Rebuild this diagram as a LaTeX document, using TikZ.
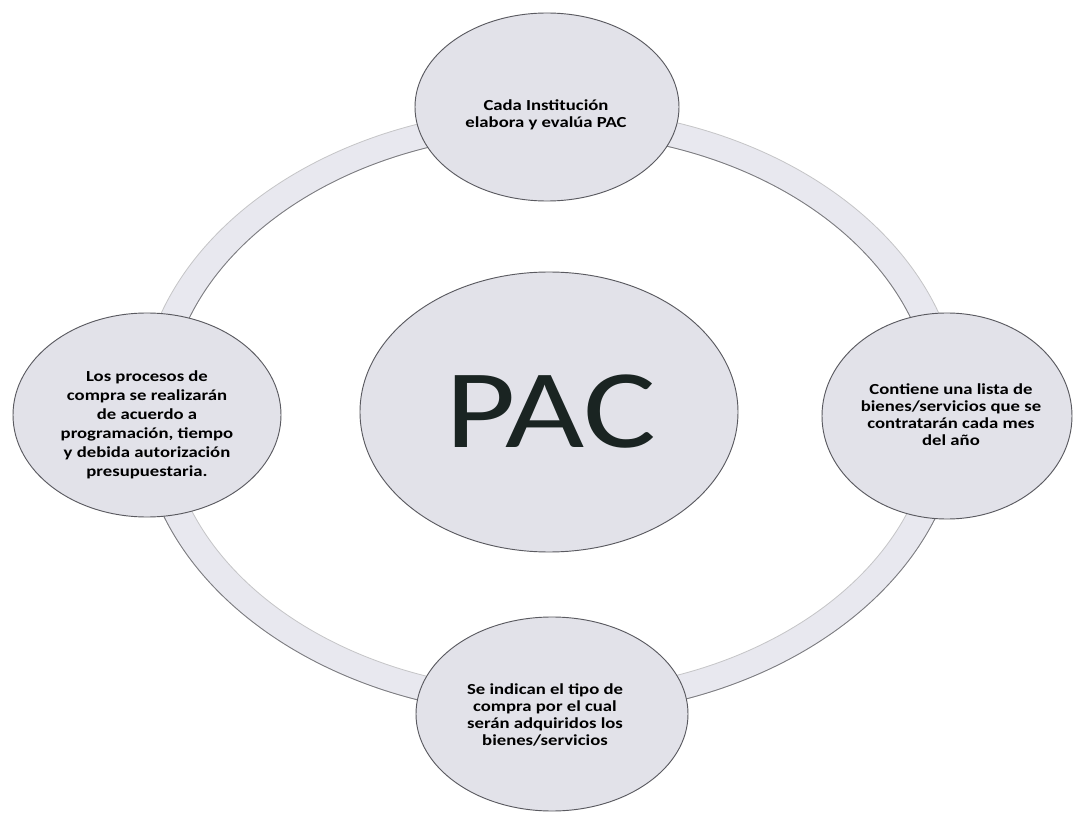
\documentclass[tikz,border=0pt]{standalone}
\usepackage{fontspec}
\setmainfont{Carlito}
\usetikzlibrary{shapes.geometric}
\definecolor{bubblefill}{RGB}{226,226,233}
\definecolor{ringfill}{RGB}{232,232,239}
\definecolor{edgegray}{RGB}{90,90,96}
\definecolor{pacink}{RGB}{26,36,34}
\begin{document}
\begin{tikzpicture}[x=0.75pt,y=-0.75pt,
  bubble/.style={ellipse, fill=bubblefill, draw=edgegray, line width=0.7pt, inner sep=0pt},
  note/.style={align=center, text=black, inner sep=0pt, xscale=1.22,
    font=\bfseries\fontsize{11.5}{12.8}\selectfont},
  ringedge/.style={line width=0.6pt}]
\useasboundingbox (0,0) rectangle (1076,813);
\fill[white] (0,0) rectangle (1076,813);

% the band that links the four outer bubbles
\coordinate (hub) at (550,412);
\path[fill=ringfill, even odd rule]
  (hub) ellipse [x radius=411, y radius=304]
  (hub) ellipse [x radius=383, y radius=279];
\draw[ringedge, edgegray!35] (hub) ellipse [x radius=411, y radius=304];
\draw[ringedge, edgegray!35] (hub) ellipse [x radius=383, y radius=279];
% darker lower edge of the band (shadow side)
\draw[ringedge, edgegray!80] (hub) ++(180:383 and 279)
  arc [start angle=180, end angle=360, x radius=383, y radius=279];
\draw[ringedge, edgegray!80] (hub) ++(0:411 and 304)
  arc [start angle=0, end angle=180, x radius=411, y radius=304];

% central bubble
\node[bubble, minimum width=283.5pt, minimum height=210pt] (pac) at (549,412) {};
\node[inner sep=0pt, xscale=1.22, text=pacink, font=\fontsize{84}{90}\selectfont]
  (pactext) at (551,412) {PAC};

% outer bubbles
\node[bubble, minimum width=198pt, minimum height=141pt] (top) at (547,107) {};
\node[bubble, minimum width=201pt, minimum height=153pt] (left) at (147,415) {};
\node[bubble, minimum width=187.5pt, minimum height=154.5pt] (right) at (947,416) {};
\node[bubble, minimum width=204pt, minimum height=145.5pt] (bottom) at (552,714) {};

\node[note] (topnote) at (546,115) {Cada Institución\\elabora y evalúa PAC};
\node[note, font=\bfseries\fontsize{11.5}{14.2}\selectfont] (leftnote) at (147,425)
  {Los procesos de\\compra se realizarán\\de acuerdo a\\programación, tiempo\\y debida autorización\\presupuestaria.};
\node[note] (rightnote) at (951,415)
  {Contiene una lista de\\bienes/servicios que se\\contratarán cada mes\\del año};
\node[note] (bottomnote) at (545,715)
  {Se indican el tipo de\\compra por el cual\\serán adquiridos los\\bienes/servicios};
\end{tikzpicture}
\end{document}
